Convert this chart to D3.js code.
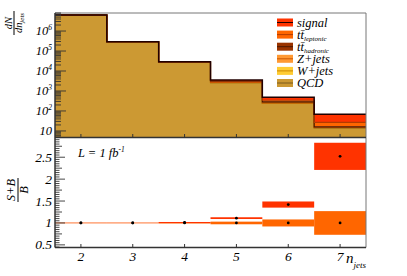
<!DOCTYPE html>
<html>
<head>
<meta charset="utf-8">
<title>n jets</title>
<script src="https://cdn.jsdelivr.net/npm/d3@7"></script>
<style>
  body { margin: 0; background: white; }
  svg { display: block; font-family: "Liberation Serif", "Times New Roman", serif; }
  text { font-family: "Liberation Serif", "Times New Roman", serif; font-style: italic; fill: black; }
</style>
</head>
<body>
<svg id="main" width="407" height="276"></svg>
<script>
// bins
let nJets = [2, 3, 4, 5, 6, 7];

// stacked samples, events per bin
let qcd        = [6280000, 288000, 27000, 2600, 243, 14];
let wjets      = [5000, 300, 80, 20, 3, 0.5];
let zjets      = [5000, 300, 100, 30, 5, 0.5];
let ttHadronic = [500, 1500, 1500, 400, 35, 1];
let ttLeptonic = [50, 100, 200, 100, 55, 11];
let signal     = [10, 50, 290, 350, 143, 41];

// ratio panel
let ratioSB = [1.0, 1.0, 1.01, 1.11, 1.42, 2.52];
let errSB   = [0.003, 0.003, 0.012, 0.02, 0.07, 0.31];
let ratioB  = [1, 1, 1, 1, 1, 1];
let errB    = [0.007, 0.007, 0.012, 0.03, 0.08, 0.27];

let topTicks = [10, 100, 1000, 10000, 100000, 1000000];
let ratioTicks = [0.5, 1, 1.5, 2, 2.5];

let samples = [
  {key: 'qcd', label: 'QCD', fill: '#cc9933', line: '#7a5a1c', vals: qcd},
  {key: 'wjets', label: 'W+jets', fill: '#ffcc33', line: '#cc8800', vals: wjets},
  {key: 'zjets', label: 'Z+jets', fill: '#ff9933', line: '#cc5500', vals: zjets},
  {key: 'tthad', label: 'hadronic', fill: '#993300', line: '#4a1800', vals: ttHadronic},
  {key: 'ttlep', label: 'leptonic', fill: '#ff6600', line: '#b33c00', vals: ttLeptonic},
  {key: 'signal', label: 'signal', fill: '#ff3300', line: '#220000', vals: signal}
];

let svg = d3.select('svg#main');
let left = 55, right = 366;
let top1 = 13, bot1 = 137.5, bot2 = 247.5;

let x = d3.scaleLinear().domain([1.5, 7.5]).range([left, right]);
let y = d3.scaleLog().domain([4.7, 8e6]).range([bot1, top1]);
let yr = d3.scaleLinear().domain([0.44, 2.95]).range([bot2, bot1]);

// build stack table
let table = nJets.map(function(n, i) {
  let row = {n: n};
  for (let s of samples) row[s.key] = s.vals[i];
  return row;
});
let stack = d3.stack().keys(samples.map(s => s.key))(table);

let clampY = v => y(Math.max(v, 4.7));

// each layer as one stepped area so bins do not show seams
let hist = svg.append('g').attr('class', 'hist');
let area = d3.area()
  .curve(d3.curveStepAfter)
  .x(d => d[0]).y0(d => d[1]).y1(d => d[2]);
let step = d3.line().curve(d3.curveStepAfter);

function layerPoints(layer) {
  let pts = layer.map(d => [x(d.data.n - 0.5), clampY(d[0]), clampY(d[1])]);
  let last = layer[layer.length - 1];
  pts.push([x(7.5), clampY(last[0]), clampY(last[1])]);
  return pts;
}

stack.forEach(function(layer, li) {
  hist.append('path')
    .attr('d', area(layerPoints(layer)))
    .attr('fill', samples[li].fill);
});
stack.forEach(function(layer, li) {
  hist.append('path')
    .attr('d', step(layerPoints(layer).map(p => [p[0], p[2]])))
    .attr('fill', 'none')
    .attr('stroke', samples[li].line)
    .attr('stroke-width', li === stack.length - 1 ? 1.5 : 1.1);
});

// ratio panel bands
let ratio = svg.append('g').attr('class', 'ratio');
function band(vals, errs, color) {
  ratio.append('g').selectAll('rect')
    .data(nJets)
    .enter().append('rect')
      .attr('x', n => x(n - 0.5))
      .attr('width', n => x(n + 0.5) - x(n - 0.5))
      .attr('y', (n, i) => yr(vals[i] + errs[i]))
      .attr('height', (n, i) => yr(vals[i] - errs[i]) - yr(vals[i] + errs[i]))
      .attr('fill', color);
}
band(ratioB, errB, '#ff6600');
band(ratioSB, errSB, '#ff3300');

for (let vals of [ratioB, ratioSB]) {
  ratio.append('g').selectAll('circle')
    .data(nJets)
    .enter().append('circle')
      .attr('cx', n => x(n))
      .attr('cy', (n, i) => yr(vals[i]))
      .attr('r', 1.4)
      .attr('fill', 'black');
}

// frames
let frame = svg.append('g').attr('stroke', '#777').attr('stroke-width', 1).attr('fill', 'none');
frame.append('path').attr('d', `M${left},${top1}H${right}V${bot2}`);

let axes = svg.append('g').attr('stroke', '#333').attr('fill', 'none');
axes.append('path').attr('d', `M${left},${top1}V${bot2}`).attr('stroke-width', 1.5);
axes.append('path').attr('d', `M${left},${bot1}H${right}`).attr('stroke-width', 1.5);
axes.append('path').attr('d', `M${left},${bot2}H${right}`).attr('stroke-width', 1.5);

// log minor/major ticks on top panel
let logTicks = [];
for (let e = 0; e <= 6; e++) {
  for (let m = 1; m <= 9; m++) {
    let v = m * Math.pow(10, e);
    if (v >= 4.7 && v <= 8e6) logTicks.push({v: v, major: m === 1});
  }
}
axes.append('g').selectAll('line')
  .data(logTicks)
  .enter().append('line')
    .attr('x1', left).attr('x2', d => left + (d.major ? 11 : 6))
    .attr('y1', d => y(d.v)).attr('y2', d => y(d.v))
    .attr('stroke-width', 0.9);

// ratio ticks
let rTicks = d3.range(0.45, 2.951, 0.05).map(v => Math.round(v * 100) / 100);
axes.append('g').selectAll('line')
  .data(rTicks)
  .enter().append('line')
    .attr('x1', left)
    .attr('x2', v => left + (Math.abs(v * 2 - Math.round(v * 2)) < 1e-6 ? 10 : (Math.abs(v * 4 - Math.round(v * 4)) < 1e-6 ? 7 : 4.5)))
    .attr('y1', v => yr(v)).attr('y2', v => yr(v))
    .attr('stroke-width', 0.9);

// x ticks on both panels
for (let yb of [bot1, bot2]) {
  axes.append('g').selectAll('line')
    .data(nJets)
    .enter().append('line')
      .attr('x1', n => x(n)).attr('x2', n => x(n))
      .attr('y1', yb).attr('y2', yb - 3.5)
      .attr('stroke-width', 1);
}

// tick labels
let labels = svg.append('g');
labels.selectAll('text.ylog')
  .data(topTicks)
  .enter().append('text')
    .attr('class', 'ylog')
    .attr('x', 52)
    .attr('y', v => y(v) + 4)
    .attr('text-anchor', 'end')
    .attr('font-size', 12.5)
    .each(function(v) {
      let e = Math.round(Math.log10(v));
      let t = d3.select(this);
      t.append('tspan').text('10');
      if (e > 1) t.append('tspan').attr('dy', -5).attr('font-size', 7.5).text(e);
    });

labels.selectAll('text.yr')
  .data(ratioTicks)
  .enter().append('text')
    .attr('class', 'yr')
    .attr('x', 52)
    .attr('y', v => yr(v) + 4.5)
    .attr('text-anchor', 'end')
    .attr('font-size', 13.5)
    .text(v => v);

labels.selectAll('text.x')
  .data(nJets)
  .enter().append('text')
    .attr('class', 'x')
    .attr('x', n => x(n))
    .attr('y', 261)
    .attr('text-anchor', 'middle')
    .attr('font-size', 13.5)
    .text(n => n);

// axis titles
let xt = labels.append('text').attr('x', 346).attr('y', 263).attr('font-size', 15);
xt.append('tspan').text('n');
xt.append('tspan').attr('dy', 5).attr('font-size', 9).text('jets');

let yt = labels.append('g').attr('transform', 'translate(14,23) rotate(-90)');
yt.append('text').attr('x', 0).attr('y', -2.5).attr('text-anchor', 'middle').attr('font-size', 10.5).text('dN');
yt.append('line').attr('x1', -12).attr('x2', 12).attr('y1', 0).attr('y2', 0).attr('stroke', 'black').attr('stroke-width', 1);
let den = yt.append('text').attr('x', 0).attr('y', 7.5).attr('text-anchor', 'middle').attr('font-size', 10.5);
den.append('tspan').text('dn');
den.append('tspan').attr('dy', 2).attr('font-size', 7).text('jets');

let yt2 = labels.append('g').attr('transform', 'translate(18,190) rotate(-90)');
yt2.append('text').attr('x', 0).attr('y', -3).attr('text-anchor', 'middle').attr('font-size', 12.5).text('S+B');
yt2.append('line').attr('x1', -12).attr('x2', 12).attr('y1', 0).attr('y2', 0).attr('stroke', 'black').attr('stroke-width', 1);
yt2.append('text').attr('x', 0).attr('y', 9.5).attr('text-anchor', 'middle').attr('font-size', 12.5).text('B');

let lumi = labels.append('text').attr('x', 78).attr('y', 157).attr('font-size', 12.5);
lumi.append('tspan').text('L = 1 fb');
lumi.append('tspan').attr('dy', -5).attr('font-size', 7.5).text('-1');

// legend, top entry first
let legend = svg.append('g').attr('class', 'legend');
let legRows = samples.slice().reverse();
let rowY = d3.scalePoint().domain(legRows.map(s => s.key)).range([22.5, 83]);
legRows.forEach(function(s) {
  let cy = rowY(s.key);
  legend.append('rect').attr('x', 277).attr('y', cy - 4).attr('width', 16).attr('height', 8).attr('fill', s.fill);
  legend.append('line').attr('x1', 277).attr('x2', 293).attr('y1', cy).attr('y2', cy).attr('stroke', s.line).attr('stroke-width', 1);
  let t = legend.append('text').attr('x', 297).attr('y', cy + 4).attr('font-size', 12.5);
  if (s.key === 'tthad' || s.key === 'ttlep') {
    t.append('tspan').text('t\u0074\u0304');
    t.append('tspan').attr('dy', 2.5).attr('font-size', 7).text(s.label);
  } else {
    t.text(s.label);
  }
});
</script>
</body>
</html>
